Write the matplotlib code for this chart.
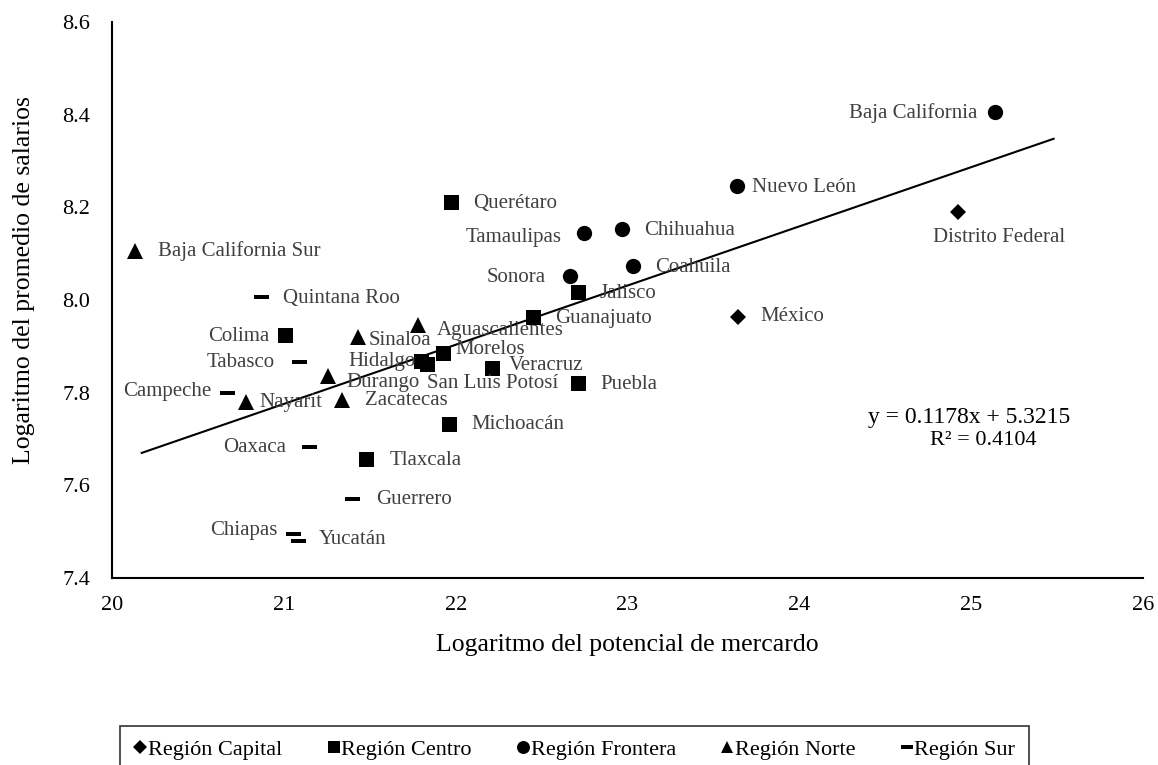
import matplotlib
matplotlib.use("Agg")
import matplotlib.pyplot as plt
from matplotlib.path import Path
from matplotlib.lines import Line2D
import numpy as np

plt.rcParams['font.family'] = ['Liberation Serif', 'DejaVu Serif']

# ---------------- data ----------------
capital_names = ["México", "Distrito Federal"]
capital_x = [23.642, 24.926]
capital_y = [7.964, 8.191]

centro_names = ["Querétaro", "Jalisco", "Guanajuato", "Colima", "Morelos", "Hidalgo",
                "San Luis Potosí", "Veracruz", "Puebla", "Michoacán", "Tlaxcala"]
centro_x = [21.971, 22.712, 22.449, 21.005, 21.925, 21.800, 21.832, 22.210, 22.711, 21.962, 21.477]
centro_y = [8.211, 8.017, 7.964, 7.924, 7.885, 7.868, 7.862, 7.853, 7.820, 7.732, 7.656]

frontera_names = ["Baja California", "Nuevo León", "Chihuahua", "Tamaulipas", "Coahuila", "Sonora"]
frontera_x = [25.140, 23.636, 22.967, 22.749, 23.033, 22.668]
frontera_y = [8.406, 8.245, 8.153, 8.144, 8.074, 8.052]

norte_names = ["Baja California Sur", "Aguascalientes", "Sinaloa", "Durango", "Zacatecas", "Nayarit"]
norte_x = [20.134, 21.783, 21.434, 21.259, 21.340, 20.780]
norte_y = [8.106, 7.946, 7.920, 7.837, 7.785, 7.780]

sur_names = ["Quintana Roo", "Tabasco", "Campeche", "Oaxaca", "Guerrero", "Chiapas", "Yucatán"]
sur_x = [20.865, 21.087, 20.671, 21.145, 21.399, 21.053, 21.084]
sur_y = [8.006, 7.867, 7.800, 7.683, 7.570, 7.496, 7.480]

trend_x = [20.173, 25.48]
trend_y = [7.670, 8.348]

legend_labels = ["Región Capital", "Región Centro", "Región Frontera", "Región Norte", "Región Sur"]
x_ticks = [20, 21, 22, 23, 24, 25, 26]
y_ticks = [7.4, 7.6, 7.8, 8.0, 8.2, 8.4, 8.6]
equation_text = "y = 0.1178x + 5.3215"
r2_text = "R² = 0.4104"

# ---------------- label layout (pixel offsets, ha) ----------------
label_layout = {
    "Baja California Sur": (23, 0, "left"),
    "Quintana Roo": (22.6, -1, "left"),
    "Colima": (-15.4, -1, "right"),
    "Sinaloa": (10, -3.3, "left"),
    "Tabasco": (-23.7, -0.6, "right"),
    "Hidalgo": (-6, -0.7, "right"),
    "Durango": (17.7, -6.7, "left"),
    "San Luis Potosí": (0.6, -19.4, "left"),
    "Campeche": (-16.3, 1, "right"),
    "Nayarit": (13, -1, "left"),
    "Zacatecas": (22.7, -0.7, "left"),
    "Aguascalientes": (18.4, -5, "left"),
    "Morelos": (13, 3.3, "left"),
    "Veracruz": (16.6, 2.3, "left"),
    "Michoacán": (22.7, 0, "left"),
    "Oaxaca": (-23, -0.6, "right"),
    "Tlaxcala": (23.6, -0.7, "left"),
    "Guerrero": (23.4, -0.7, "left"),
    "Chiapas": (-15.4, 3.3, "right"),
    "Yucatán": (20.4, 1.4, "left"),
    "Sonora": (-24.3, -2, "right"),
    "Tamaulipas": (-22.6, -4, "right"),
    "Guanajuato": (22.3, -1.6, "left"),
    "Jalisco": (22, -1, "left"),
    "Puebla": (22.3, -0.7, "left"),
    "Querétaro": (22.6, -1, "left"),
    "Chihuahua": (22.6, -1.4, "left"),
    "Coahuila": (22, -1.6, "left"),
    "México": (23, 0, "left"),
    "Nuevo León": (15, -0.6, "left"),
    "Baja California": (-18.3, -1, "right"),
    "Distrito Federal": (40.5, -25.6, "center"),
}

# ---------------- figure ----------------
W, H = 1158, 765
fig = plt.figure(figsize=(W / 100, H / 100), dpi=100)
ax = fig.add_axes([112 / W, 1 - 578 / H, 1031 / W, 556 / H])

dash = Path([(-1, -0.26), (1, -0.26), (1, 0.26), (-1, 0.26), (-1, -0.26)],
            [Path.MOVETO, Path.LINETO, Path.LINETO, Path.LINETO, Path.CLOSEPOLY])

series = [
    (capital_names, capital_x, capital_y, "D", 7.8),
    (centro_names, centro_x, centro_y, "s", 10.8),
    (frontera_names, frontera_x, frontera_y, "o", 11),
    (norte_names, norte_x, norte_y, "^", 11),
    (sur_names, sur_x, sur_y, dash, 10.8),
]

ax.plot(trend_x, trend_y, color="black", lw=1.5, zorder=2)

handles = []
for (names, xs, ys, mk, ms), lab in zip(series, legend_labels):
    ax.plot(xs, ys, linestyle="none", marker=mk, markersize=ms, color="black",
            markeredgewidth=0, zorder=3)
    handles.append(Line2D([], [], linestyle="none", marker=mk, markersize=ms * 0.85,
                          color="black", markeredgewidth=0))
    for n, x, y in zip(names, xs, ys):
        dx, dy, ha = label_layout[n]
        ax.annotate(n, (x, y), xytext=(dx, dy), textcoords="offset pixels",
                    ha=ha, va="center", fontsize=15, color="#404040", zorder=4)

ax.set_xlim(20, 26)
ax.set_ylim(7.4, 8.6)
ax.set_xticks(x_ticks)
ax.set_yticks(y_ticks)
ax.set_xticklabels([str(t) for t in x_ticks])
ax.set_yticklabels([f"{t:.1f}" for t in y_ticks])
ax.tick_params(axis="both", length=0, labelsize=16, colors="black")
ax.tick_params(axis="y", pad=15.5)
ax.tick_params(axis="x", pad=13)
for s in ["top", "right"]:
    ax.spines[s].set_visible(False)
for s in ["left", "bottom"]:
    ax.spines[s].set_linewidth(1.5)
    ax.spines[s].set_color("black")
ax.set_facecolor("white")

# trendline equation
ax.annotate(equation_text, (969 / W, 1 - 418 / H), xycoords="figure fraction",
            ha="center", va="center", fontsize=17, color="black")
ax.annotate(r2_text, (983 / W, 1 - 441 / H), xycoords="figure fraction",
            ha="center", va="center", fontsize=16, color="black")

# axis titles
fig.text(627 / W, 1 - 645 / H, "Logaritmo del potencial de mercardo",
         ha="center", va="center", fontsize=18.5)
fig.text(24 / W, 1 - 280 / H, "Logaritmo del promedio de salarios",
         ha="center", va="center", rotation=90, fontsize=18.5)

leg = fig.legend(handles, legend_labels, loc="upper center",
                 bbox_to_anchor=(574.5 / W, 1 - 726 / H), ncol=5, frameon=True,
                 fancybox=False, edgecolor="black", fontsize=16,
                 handlelength=0.6, handletextpad=0.05, columnspacing=2.0,
                 borderpad=0.6, borderaxespad=0)
leg.get_frame().set_linewidth(1.2)

fig.savefig("out.png", dpi=100, facecolor="white")
